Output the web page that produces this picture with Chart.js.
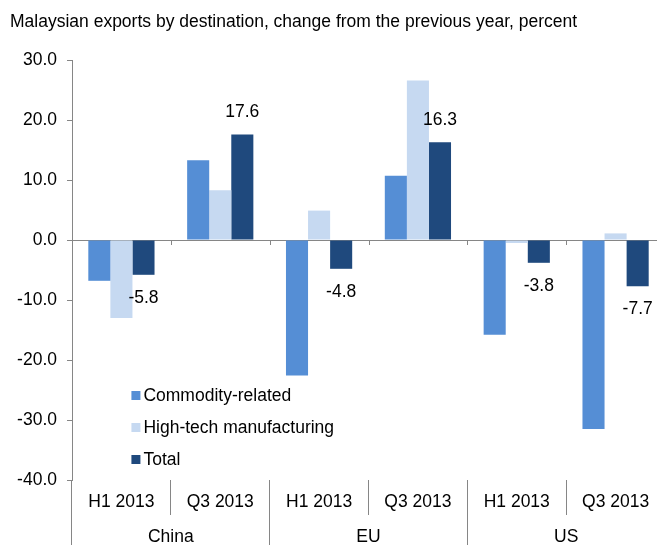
<!DOCTYPE html>
<html>
<head>
<meta charset="utf-8">
<script src="https://cdn.jsdelivr.net/npm/chart.js@4/dist/chart.umd.min.js"></script>
<style>
  body { margin: 0; overflow: hidden; background: #fff; }
  #wrap { width: 665px; height: 545px; position: relative; }
</style>
</head>
<body>
<div id="wrap"><canvas id="exportsChart"></canvas></div>
<script>
const periods = ["H1 2013", "Q3 2013", "H1 2013", "Q3 2013", "H1 2013", "Q3 2013"];
const regions = ["China", "EU", "US"];
const commodity = [-6.8, 13.3, -22.6, 10.7, -15.8, -31.5];
const hightech  = [-13.0, 8.3, 4.9, 26.6, -0.5, 1.1];
const total     = [-5.8, 17.6, -4.8, 16.3, -3.8, -7.7];
const yTicks = { min: -40, max: 30, step: 10 };

const FONT = "'Liberation Sans', Arial, sans-serif";
const FSIZE = 17.5;
const AXIS = "#868686";

// zero line ticks between categories
const zeroTicks = {
    id: "zeroTicks",
    afterDatasetsDraw(chart) {
        const x = chart.scales.x, y = chart.scales.y, ctx = chart.ctx;
        const y0 = y.getPixelForValue(0);
        ctx.save();
        ctx.strokeStyle = AXIS;
        ctx.lineWidth = 1;
        for (let i = 1; i < periods.length; i++) {
            const px = Math.round((x.getPixelForValue(i - 1) + x.getPixelForValue(i)) / 2) + 0.5;
            ctx.beginPath();
            ctx.moveTo(px, y0);
            ctx.lineTo(px, y0 + 5);
            ctx.stroke();
        }
        ctx.restore();
    }
};

// value labels on the Total bars
const totalLabels = {
    id: "totalLabels",
    afterDatasetsDraw(chart) {
        const ctx = chart.ctx;
        const meta = chart.getDatasetMeta(2);
        ctx.save();
        ctx.font = FSIZE + "px " + FONT;
        ctx.fillStyle = "#000";
        ctx.textAlign = "center";
        ctx.textBaseline = "middle";
        meta.data.forEach((bar, i) => {
            const v = total[i];
            const ly = v >= 0 ? bar.y - 22 : bar.y + 23;
            ctx.fillText(v.toFixed(1), bar.x, ly);
        });
        ctx.restore();
    }
};

// legend inside the plot, lower left
const insideLegend = {
    id: "insideLegend",
    afterDraw(chart) {
        const ctx = chart.ctx;
        const x = chart.scales.x.getPixelForValue(0) + 10;
        const y = chart.scales.y.getPixelForValue(-26);
        ctx.save();
        ctx.font = FSIZE + "px " + FONT;
        ctx.textBaseline = "middle";
        chart.data.datasets.forEach((ds, i) => {
            const cy = y + i * 32;
            ctx.fillStyle = ds.backgroundColor;
            ctx.fillRect(x, cy - 5, 9, 9);
            ctx.fillStyle = "#000";
            ctx.fillText(ds.label, x + 12, cy);
        });
        ctx.restore();
    }
};

new Chart(document.getElementById("exportsChart"), {
    type: "bar",
    data: {
        labels: periods,
        datasets: [
            { label: "Commodity-related", data: commodity, backgroundColor: "#558ED5" },
            { label: "High-tech manufacturing", data: hightech, backgroundColor: "#C6D9F1" },
            { label: "Total", data: total, backgroundColor: "#1F497D" }
        ]
    },
    options: {
        responsive: true,
        maintainAspectRatio: false,
        animation: false,
        layout: { padding: { left: 10, right: 0, top: 0, bottom: 0 } },
        datasets: { bar: { barPercentage: 1, categoryPercentage: 0.67 } },
        plugins: {
            legend: { display: false },
            tooltip: { enabled: false },
            title: {
                display: true,
                text: "Malaysian exports by destination, change from the previous year, percent",
                align: "start",
                color: "#000",
                font: { family: FONT, size: FSIZE, weight: "normal" },
                padding: { top: 12, bottom: 27 }
            }
        },
        scales: {
            y: {
                min: yTicks.min,
                max: yTicks.max,
                afterFit: s => { s.width = 62; },
                ticks: {
                    stepSize: yTicks.step,
                    padding: 10,
                    color: "#000",
                    font: { family: FONT, size: FSIZE },
                    callback: v => v.toFixed(1)
                },
                grid: {
                    drawOnChartArea: true,
                    color: c => (c.tick && c.tick.value === 0) ? AXIS : "rgba(0,0,0,0)",
                    tickColor: AXIS,
                    tickLength: 5
                },
                border: { color: AXIS }
            },
            x: {
                weight: 0,
                afterFit: s => { s.height = 32; },
                ticks: {
                    autoSkip: false,
                    maxRotation: 0,
                    padding: -23,
                    color: "#000",
                    font: { family: FONT, size: FSIZE }
                },
                grid: { offset: true, drawOnChartArea: false, color: AXIS, tickLength: 35 },
                border: { display: false }
            },
            x2: {
                type: "category",
                labels: regions,
                position: "bottom",
                weight: 1,
                afterFit: s => { s.height = 33; },
                ticks: {
                    autoSkip: false,
                    maxRotation: 0,
                    padding: -18,
                    color: "#000",
                    font: { family: FONT, size: FSIZE }
                },
                grid: { offset: true, drawOnChartArea: false, color: AXIS, tickLength: 33 },
                border: { display: false }
            }
        }
    },
    plugins: [zeroTicks, totalLabels, insideLegend]
});
</script>
</body>
</html>
